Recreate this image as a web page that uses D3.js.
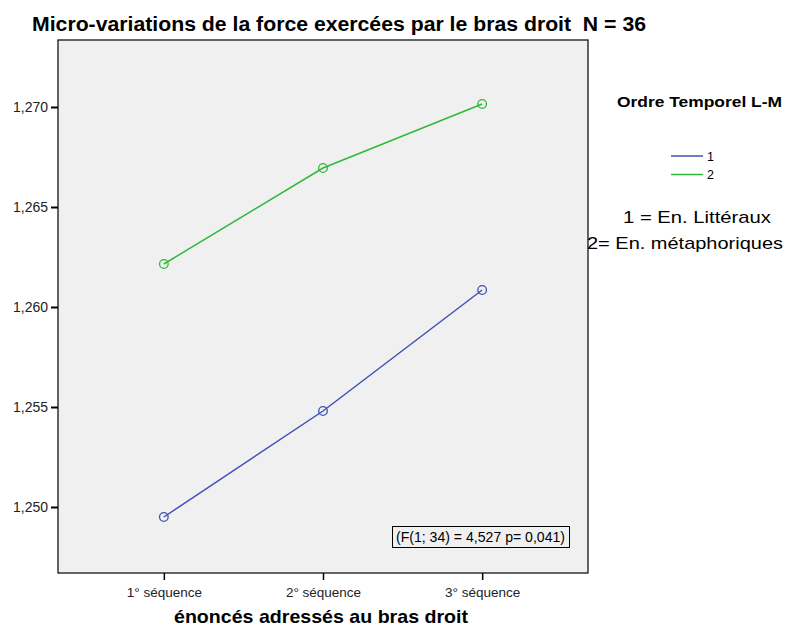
<!DOCTYPE html>
<html><head><meta charset="utf-8">
<script src="https://cdn.jsdelivr.net/npm/d3@7"></script>
<style>body{margin:0;background:#fff;} text{font-family:"Liberation Sans",Arial,sans-serif;white-space:pre;}</style>
</head><body><svg id="c" width="789" height="627"></svg>
<script>
const categories = ["1° séquence", "2° séquence", "3° séquence"];
const seriesNames = ["1", "2"];
const series1 = [1.2495, 1.2548, 1.26085];
const series2 = [1.26215, 1.26695, 1.27015];
const yTicks = [1.250, 1.255, 1.260, 1.265, 1.270];
const colors = ["#3f51b5", "#2fb93a"];

const svg = d3.select("#c");
const L = 58, R = 588, T = 40, B = 573;
const x = d3.scalePoint().domain(categories).range([L, R]).padding(0.665);
const y = d3.scaleLinear().domain([1.2467, 1.27335]).range([B, T]);
const fmt = v => d3.format(".3f")(v).replace(".", ",");

svg.append("rect").attr("x", L).attr("y", T).attr("width", R - L).attr("height", B - T)
  .attr("fill", "#f0f0f0").attr("stroke", "#000").attr("stroke-width", 1.2);

const ya = svg.append("g").attr("transform", `translate(${L},0)`)
  .call(d3.axisLeft(y).tickValues(yTicks).tickFormat(fmt).tickSize(7).tickPadding(3));
ya.select(".domain").remove();
ya.selectAll("line").attr("stroke", "#000").attr("stroke-width", 2);
ya.selectAll("text").attr("font-size", 14).attr("fill", "#222").style("font-family", "Liberation Sans, Arial, sans-serif");

const xa = svg.append("g").attr("transform", `translate(0,${B})`)
  .call(d3.axisBottom(x).tickSize(7).tickPadding(7));
xa.select(".domain").remove();
xa.selectAll("line").attr("stroke", "#000").attr("stroke-width", 1.5);
xa.selectAll("text").attr("font-size", 13.5).attr("fill", "#222").style("font-family", "Liberation Sans, Arial, sans-serif");

const line = d3.line().x((d, i) => x(categories[i])).y(d => y(d));
[series1, series2].forEach((s, k) => {
  svg.append("path").datum(s).attr("d", line).attr("fill", "none")
    .attr("stroke", colors[k]).attr("stroke-width", 1.5);
  svg.selectAll(null).data(s).enter().append("circle")
    .attr("cx", (d, i) => x(categories[i])).attr("cy", d => y(d)).attr("r", 4.3)
    .attr("fill", "none").attr("stroke", colors[k]).attr("stroke-width", 1.3);
});

function txt(xx, yy, size, str, len, bold, anchor) {
  const t = svg.append("text").attr("x", xx).attr("y", yy).attr("font-size", size)
    .attr("text-anchor", anchor || "start").text(str);
  if (bold) t.attr("font-weight", "bold");
  if (len) t.attr("textLength", len).attr("lengthAdjust", "spacingAndGlyphs");
  return t;
}

txt(32, 31, 20, "Micro-variations de la force exercées par le bras droit  N = 36", 614, true);
txt(174, 623, 18.5, "énoncés adressés au bras droit", 294, true);

// annotation
svg.append("rect").attr("x", 392.5).attr("y", 526.5).attr("width", 177).attr("height", 21)
  .attr("fill", "none").attr("stroke", "#000").attr("stroke-width", 1);
txt(396, 542, 14, "(F(1; 34) = 4,527 p= 0,041)", 169);

// legend
txt(617, 107, 14.5, "Ordre Temporel L-M", 165, true);
seriesNames.forEach((n, k) => {
  const yy = 156 + k * 18.5;
  svg.append("line").attr("x1", 671).attr("x2", 703).attr("y1", yy).attr("y2", yy)
    .attr("stroke", colors[k]).attr("stroke-width", 1.5);
  txt(707, yy + 4.5, 12.5, n);
});
txt(623, 223, 17, "1 = En. Littéraux", 148);
txt(587, 249, 17, "2= En. métaphoriques", 196);
</script></body></html>
